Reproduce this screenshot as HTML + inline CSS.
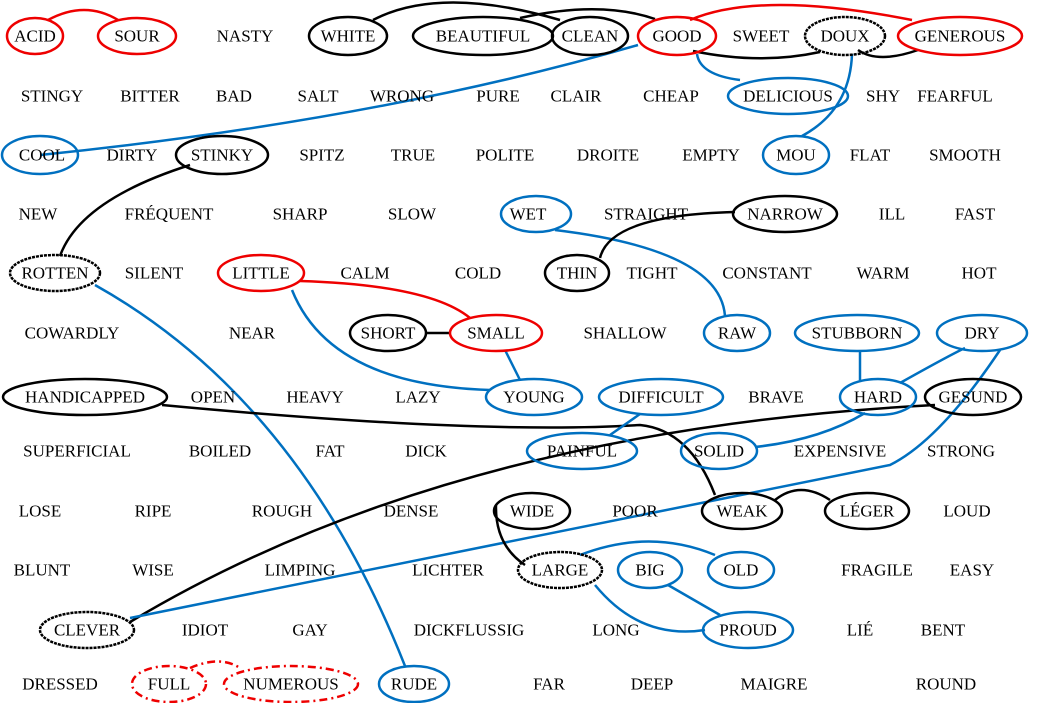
<!DOCTYPE html>
<html><head><meta charset="utf-8"><style>
html,body{margin:0;padding:0;background:#fff;width:1056px;height:703px;overflow:hidden}
text{font-family:"Liberation Serif",serif;font-size:17px;text-anchor:middle;dominant-baseline:central;fill:#000}
</style></head><body>
<svg width="1056" height="703" viewBox="0 0 1056 703" xmlns="http://www.w3.org/2000/svg">
<g fill="none" stroke-width="2.5">
<!-- edges -->
<path d="M48 20 Q85 0 118 20" stroke="#e00"/>
<path d="M373 20 Q440 -15 560 20" stroke="#000"/>
<path d="M520 18 Q600 0 655 19" stroke="#000"/>
<path d="M693 51 Q760 65 820 52" stroke="#000"/>
<path d="M858 50 Q878 64 918 50" stroke="#000"/>
<path d="M690 20 Q760 -10 912 20" stroke="#e00"/>
<path d="M697 54 Q700 75 740 80" stroke="#0070c0"/>
<path d="M852 54 Q850 110 802 136" stroke="#0070c0"/>
<path d="M638 45 Q380 120 40 155" stroke="#0070c0"/>
<path d="M190 165 Q80 200 60 256" stroke="#000"/>
<path d="M555 230 Q720 250 725 316" stroke="#0070c0"/>
<path d="M735 212 Q610 215 600 258" stroke="#000"/>
<path d="M300 281 Q430 285 470 318" stroke="#e00"/>
<path d="M426 333 L450 333" stroke="#000"/>
<path d="M292 290 Q330 385 490 390" stroke="#0070c0"/>
<path d="M505 350 L520 380" stroke="#0070c0"/>
<path d="M95 285 Q300 400 405 666" stroke="#0070c0"/>
<path d="M162 405 Q480 435 640 425 Q690 430 715 495" stroke="#000"/>
<path d="M130 622 Q450 430 935 405" stroke="#000"/>
<path d="M860 351 L860 380" stroke="#0070c0"/>
<path d="M900 383 Q950 355 965 348" stroke="#0070c0"/>
<path d="M865 413 Q820 440 755 447" stroke="#0070c0"/>
<path d="M640 414 L610 435" stroke="#0070c0"/>
<path d="M1000 350 Q940 440 890 465 L130 618" stroke="#0070c0"/>
<path d="M775 500 Q800 480 830 500" stroke="#000"/>
<path d="M496 505 Q495 545 525 565" stroke="#000"/>
<path d="M580 555 Q650 528 715 555" stroke="#0070c0"/>
<path d="M595 585 Q640 640 705 630" stroke="#0070c0"/>
<path d="M668 585 L720 615" stroke="#0070c0"/>
<path d="M190 668 Q220 655 240 668" stroke="#e00" stroke-dasharray="8 4 2 4"/>
<!-- ellipses -->
<ellipse cx="35" cy="36" rx="28" ry="18" stroke="#e00"/>
<ellipse cx="137" cy="36" rx="39" ry="18" stroke="#e00"/>
<ellipse cx="348" cy="36" rx="39" ry="19" stroke="#000"/>
<ellipse cx="483" cy="36" rx="70" ry="19" stroke="#000"/>
<ellipse cx="590" cy="36" rx="38" ry="19" stroke="#000"/>
<ellipse cx="677" cy="36" rx="39" ry="19" stroke="#e00"/>
<ellipse cx="845" cy="36" rx="40" ry="19" stroke="#000" stroke-dasharray="3 1"/>
<ellipse cx="960" cy="36" rx="62" ry="19" stroke="#e00"/>
<ellipse cx="788" cy="96" rx="60" ry="18" stroke="#0070c0"/>
<ellipse cx="40" cy="155" rx="38" ry="19" stroke="#0070c0"/>
<ellipse cx="222" cy="155" rx="46" ry="19" stroke="#000"/>
<ellipse cx="796" cy="155" rx="33" ry="19" stroke="#0070c0"/>
<ellipse cx="536" cy="214" rx="35" ry="18" stroke="#0070c0"/>
<ellipse cx="785" cy="214" rx="52" ry="18" stroke="#000"/>
<ellipse cx="55" cy="273" rx="45" ry="18" stroke="#000" stroke-dasharray="3 1"/>
<ellipse cx="261" cy="273" rx="43" ry="18" stroke="#e00"/>
<ellipse cx="577" cy="273" rx="32" ry="18" stroke="#000"/>
<ellipse cx="388" cy="333" rx="38" ry="18" stroke="#000"/>
<ellipse cx="496" cy="333" rx="46" ry="18" stroke="#e00"/>
<ellipse cx="737" cy="333" rx="33" ry="18" stroke="#0070c0"/>
<ellipse cx="857" cy="333" rx="62" ry="18" stroke="#0070c0"/>
<ellipse cx="982" cy="333" rx="45" ry="18" stroke="#0070c0"/>
<ellipse cx="85" cy="397" rx="82" ry="18" stroke="#000"/>
<ellipse cx="534" cy="397" rx="48" ry="18" stroke="#0070c0"/>
<ellipse cx="661" cy="397" rx="62" ry="18" stroke="#0070c0"/>
<ellipse cx="878" cy="397" rx="38" ry="18" stroke="#0070c0"/>
<ellipse cx="973" cy="397" rx="48" ry="18" stroke="#000"/>
<ellipse cx="582" cy="451" rx="55" ry="18" stroke="#0070c0"/>
<ellipse cx="719" cy="451" rx="38" ry="18" stroke="#0070c0"/>
<ellipse cx="532" cy="511" rx="38" ry="18" stroke="#000"/>
<ellipse cx="742" cy="511" rx="40" ry="18" stroke="#000"/>
<ellipse cx="867" cy="511" rx="42" ry="18" stroke="#000"/>
<ellipse cx="560" cy="570" rx="42" ry="18" stroke="#000" stroke-dasharray="3 1"/>
<ellipse cx="650" cy="570" rx="32" ry="18" stroke="#0070c0"/>
<ellipse cx="741" cy="570" rx="33" ry="18" stroke="#0070c0"/>
<ellipse cx="87" cy="630" rx="47" ry="18" stroke="#000" stroke-dasharray="3 1"/>
<ellipse cx="748" cy="630" rx="45" ry="18" stroke="#0070c0"/>
<ellipse cx="169" cy="684" rx="37" ry="18" stroke="#e00" stroke-dasharray="8 4 2 4"/>
<ellipse cx="291" cy="684" rx="67" ry="18" stroke="#e00" stroke-dasharray="8 4 2 4"/>
<ellipse cx="414" cy="684" rx="35" ry="18" stroke="#0070c0"/>
</g>
<g>
<text x="35" y="36">ACID</text><text x="137" y="36">SOUR</text><text x="245" y="36">NASTY</text><text x="348" y="36">WHITE</text><text x="483" y="36">BEAUTIFUL</text><text x="590" y="36">CLEAN</text><text x="677" y="36">GOOD</text><text x="761" y="36">SWEET</text><text x="845" y="36">DOUX</text><text x="960" y="36">GENEROUS</text>
<text x="52" y="96">STINGY</text><text x="150" y="96">BITTER</text><text x="234" y="96">BAD</text><text x="318" y="96">SALT</text><text x="402" y="96">WRONG</text><text x="498" y="96">PURE</text><text x="576" y="96">CLAIR</text><text x="671" y="96">CHEAP</text><text x="788" y="96">DELICIOUS</text><text x="883" y="96">SHY</text><text x="955" y="96">FEARFUL</text>
<text x="42" y="155">COOL</text><text x="132" y="155">DIRTY</text><text x="222" y="155">STINKY</text><text x="322" y="155">SPITZ</text><text x="413" y="155">TRUE</text><text x="505" y="155">POLITE</text><text x="608" y="155">DROITE</text><text x="711" y="155">EMPTY</text><text x="796" y="155">MOU</text><text x="870" y="155">FLAT</text><text x="965" y="155">SMOOTH</text>
<text x="38" y="214">NEW</text><text x="169" y="214">FRÉQUENT</text><text x="300" y="214">SHARP</text><text x="412" y="214">SLOW</text><text x="528" y="214">WET</text><text x="646" y="214">STRAIGHT</text><text x="785" y="214">NARROW</text><text x="892" y="214">ILL</text><text x="975" y="214">FAST</text>
<text x="55" y="273">ROTTEN</text><text x="154" y="273">SILENT</text><text x="261" y="273">LITTLE</text><text x="365" y="273">CALM</text><text x="478" y="273">COLD</text><text x="577" y="273">THIN</text><text x="652" y="273">TIGHT</text><text x="767" y="273">CONSTANT</text><text x="883" y="273">WARM</text><text x="979" y="273">HOT</text>
<text x="72" y="333">COWARDLY</text><text x="252" y="333">NEAR</text><text x="388" y="333">SHORT</text><text x="496" y="333">SMALL</text><text x="625" y="333">SHALLOW</text><text x="737" y="333">RAW</text><text x="857" y="333">STUBBORN</text><text x="982" y="333">DRY</text>
<text x="85" y="397">HANDICAPPED</text><text x="213" y="397">OPEN</text><text x="315" y="397">HEAVY</text><text x="418" y="397">LAZY</text><text x="534" y="397">YOUNG</text><text x="661" y="397">DIFFICULT</text><text x="776" y="397">BRAVE</text><text x="878" y="397">HARD</text><text x="973" y="397">GESUND</text>
<text x="77" y="451">SUPERFICIAL</text><text x="220" y="451">BOILED</text><text x="330" y="451">FAT</text><text x="426" y="451">DICK</text><text x="582" y="451">PAINFUL</text><text x="719" y="451">SOLID</text><text x="840" y="451">EXPENSIVE</text><text x="961" y="451">STRONG</text>
<text x="40" y="511">LOSE</text><text x="153" y="511">RIPE</text><text x="282" y="511">ROUGH</text><text x="411" y="511">DENSE</text><text x="532" y="511">WIDE</text><text x="635" y="511">POOR</text><text x="742" y="511">WEAK</text><text x="867" y="511">LÉGER</text><text x="967" y="511">LOUD</text>
<text x="42" y="570">BLUNT</text><text x="153" y="570">WISE</text><text x="300" y="570">LIMPING</text><text x="448" y="570">LICHTER</text><text x="560" y="570">LARGE</text><text x="650" y="570">BIG</text><text x="741" y="570">OLD</text><text x="877" y="570">FRAGILE</text><text x="972" y="570">EASY</text>
<text x="87" y="630">CLEVER</text><text x="205" y="630">IDIOT</text><text x="310" y="630">GAY</text><text x="469" y="630">DICKFLUSSIG</text><text x="616" y="630">LONG</text><text x="748" y="630">PROUD</text><text x="860" y="630">LIÉ</text><text x="943" y="630">BENT</text>
<text x="60" y="684">DRESSED</text><text x="169" y="684">FULL</text><text x="291" y="684">NUMEROUS</text><text x="414" y="684">RUDE</text><text x="549" y="684">FAR</text><text x="652" y="684">DEEP</text><text x="774" y="684">MAIGRE</text><text x="946" y="684">ROUND</text>
</g>
</svg>
</body></html>
